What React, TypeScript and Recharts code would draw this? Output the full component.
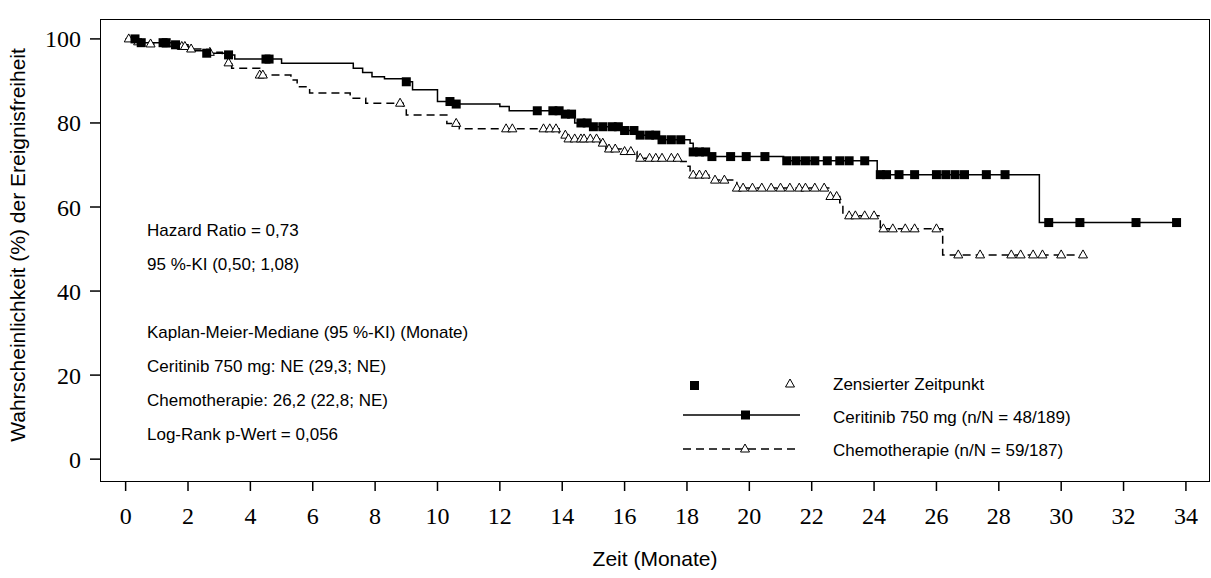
import React from "react";
import { ComposedChart, Line, Scatter, XAxis, YAxis } from "recharts";

const ceritinibSteps: [number, number][] = [[0,100],[0.5,99.1],[1.6,98.6],[2,97.2],[2.6,96.6],[3.3,96.2],[3.5,95.2],[5,94.2],[7.3,93],[7.6,92],[7.9,91],[8.3,90.5],[9.0,89.8],[9.2,87.9],[10,85.1],[10.6,84.5],[12.0,83.9],[12.3,82.9],[14.1,82.1],[14.4,80],[14.9,79.1],[15.9,78.2],[16.4,77.1],[17.1,76],[18.1,75.2],[18.2,73.1],[18.7,72],[21.1,71],[24.1,67.7],[29.3,56.3],[33.7,56.3]];
const chemoSteps: [number, number][] = [[0,100],[0.4,99.3],[0.8,98.8],[1.5,98.2],[2,97.6],[2.6,96.8],[3.1,95.8],[3.3,94.3],[3.4,93],[4.3,91.4],[5.3,90.2],[5.5,88.6],[5.9,87.1],[7.2,85.9],[7.7,84.7],[8.9,84],[9.0,81.9],[10.3,79.9],[10.7,78.6],[13.9,77.1],[14.2,76.2],[15.2,75.2],[15.4,73.8],[15.9,73.2],[16.4,71.6],[17.8,70.8],[18.0,69.7],[18.1,67.6],[18.7,66.4],[19.6,64.5],[22.6,62.5],[22.9,61],[23.0,57.9],[24.2,54.8],[26.2,48.6],[30.6,48.6]];
const ceritinibCensor = [0.3,0.5,1.2,1.3,1.6,2.6,3.3,4.5,4.6,9.0,10.4,10.6,13.2,13.7,13.9,14.1,14.3,14.6,14.8,15,15.3,15.6,15.8,16.0,16.3,16.5,16.8,17.0,17.2,17.5,17.8,18.2,18.4,18.6,18.8,19.4,19.9,20.5,21.2,21.5,21.8,22.1,22.5,22.9,23.2,23.7,24.2,24.4,24.8,25.3,26.0,26.3,26.6,26.9,27.6,28.2,29.6,30.6,32.4,33.7];
const chemoCensor = [0.1,0.4,0.8,1.3,1.8,1.9,2.1,2.7,3.3,4.3,4.4,8.8,10.6,12.2,12.4,13.4,13.6,13.8,14.1,14.2,14.4,14.6,14.7,14.9,15.1,15.3,15.5,15.7,16.0,16.2,16.5,16.8,17.0,17.2,17.5,17.7,18.2,18.4,18.6,18.9,19.2,19.6,19.8,20.1,20.4,20.7,21.0,21.3,21.6,21.8,22.1,22.4,22.6,22.8,23.2,23.4,23.7,24.0,24.3,24.6,25.0,25.3,26.0,26.7,27.4,28.4,28.7,29.1,29.4,30.0,30.7];
const xTicks = [0,2,4,6,8,10,12,14,16,18,20,22,24,26,28,30,32,34];
const yTicks = [0,20,40,60,80,100];
const annotations = ["Hazard Ratio = 0,73","95 %-KI (0,50; 1,08)","","Kaplan-Meier-Mediane (95 %-KI) (Monate)","Ceritinib 750 mg: NE (29,3; NE)","Chemotherapie: 26,2 (22,8; NE)","Log-Rank p-Wert = 0,056"];
const legendLabels = ["Zensierter Zeitpunkt","Ceritinib 750 mg (n/N = 48/189)","Chemotherapie (n/N = 59/187)"];

const toData = (s: [number, number][]) => s.map(([t, v]) => ({ t, v }));
const valueAt = (s: [number, number][], t: number) => {
  let v = s[0][1];
  for (const [tt, vv] of s) if (tt <= t) v = vv;
  return v;
};
const cerData = toData(ceritinibSteps);
const chemoData = toData(chemoSteps);
const cerCens = ceritinibCensor.map((t) => ({ t, v: valueAt(ceritinibSteps, t) }));
const chemoCens = chemoCensor.map((t) => ({ t, v: valueAt(chemoSteps, t) }));

const Square = (p: any) => <rect x={p.cx - 4.5} y={p.cy - 4.5} width={9} height={9} fill="#000" />;
const Tri = (p: any) => (
  <path d={`M${p.cx},${p.cy - 5} L${p.cx + 4.5},${p.cy + 3} L${p.cx - 4.5},${p.cy + 3} Z`} fill="#fff" stroke="#000" strokeWidth={1} />
);

const sans = "'Liberation Sans', Arial, sans-serif";
const serif = "'Liberation Serif', 'Times New Roman', serif";

export default function App() {
  return (
    <div style={{ position: "absolute", left: 0, top: 0, width: 1211, height: 578, background: "#fff" }}>
      <ComposedChart width={1211} height={578} margin={{ top: 20, right: 2, bottom: 0, left: 0 }}>
        <XAxis type="number" dataKey="t" domain={[-0.79, 34.74]} ticks={xTicks} allowDataOverflow
          height={97} tickSize={10} tickMargin={16} axisLine={false}
          tick={{ fontFamily: serif, fontSize: 24, fill: "#000" }} tickLine={{ stroke: "#000", strokeWidth: 1.5 }}
          label={{ value: "Zeit (Monate)", position: "insideBottom", offset: 12, style: { fontFamily: sans, fontSize: 21, fill: "#000" } }} />
        <YAxis type="number" dataKey="v" domain={[-5.2, 104.5]} ticks={yTicks} allowDataOverflow
          width={101} tickSize={11} tickMargin={9} axisLine={false}
          tick={{ fontFamily: serif, fontSize: 24, fill: "#000" }} tickLine={{ stroke: "#000", strokeWidth: 1.5 }} />
        <Line data={chemoData} dataKey="v" type="stepAfter" stroke="#000" strokeWidth={1.5} strokeDasharray="8 5" dot={false} isAnimationActive={false} />
        <Line data={cerData} dataKey="v" type="stepAfter" stroke="#000" strokeWidth={1.5} dot={false} isAnimationActive={false} />
        <Scatter data={chemoCens} dataKey="v" shape={Tri} isAnimationActive={false} />
        <Scatter data={cerCens} dataKey="v" shape={Square} isAnimationActive={false} />
      </ComposedChart>
      <div style={{ position: "absolute", left: 100, top: 19, width: 1108, height: 461, border: "1.5px solid #000", pointerEvents: "none" }} />
      <div style={{ position: "absolute", left: 147, top: 214, fontFamily: sans, fontSize: 17, lineHeight: "34px", color: "#000" }}>
        {annotations.map((a, i) => <div key={i} style={{ height: 34 }}>{a}</div>)}
      </div>
      <svg style={{ position: "absolute", left: 0, top: 0 }} width={1211} height={578}>
        <text x={0} y={0} transform="translate(25,245) rotate(-90)" textAnchor="middle" fontFamily={sans} fontSize={21} fill="#000">
          Wahrscheinlichkeit (%) der  Ereignisfreiheit
        </text>
        <rect x={690} y={381} width={9} height={9} fill="#000" />
        <path d="M790,379 L794.5,387 L785.5,387 Z" fill="#fff" stroke="#000" />
        <line x1={683} y1={415} x2={800} y2={415} stroke="#000" strokeWidth={1.5} />
        <rect x={741} y={410.5} width={9} height={9} fill="#000" />
        <line x1={683} y1={449} x2={800} y2={449} stroke="#000" strokeWidth={1.5} strokeDasharray="8 5" />
        <path d="M745,444 L749.5,452 L740.5,452 Z" fill="#fff" stroke="#000" />
        {legendLabels.map((l, i) => (
          <text key={i} x={833} y={390 + i * 33} fontFamily={sans} fontSize={17} fill="#000">{l}</text>
        ))}
      </svg>
    </div>
  );
}
